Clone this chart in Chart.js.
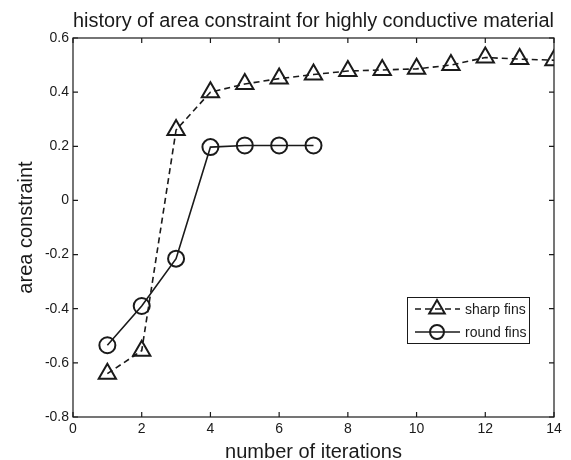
<!DOCTYPE html>
<html>
<head>
<meta charset="utf-8">
<script src="https://cdn.jsdelivr.net/npm/chart.js@4/dist/chart.umd.min.js"></script>
<style>
  html, body { margin: 0; padding: 0; background: #ffffff; }
  #wrap { width: 571px; height: 460px; }
</style>
</head>
<body>
<div id="wrap"><canvas id="grafico" width="571" height="460"></canvas></div>
<script>
// Datos
const sharpIter = [1, 2, 3, 4, 5, 6, 7, 8, 9, 10, 11, 12, 13, 14];
const sharpFins = [-0.64, -0.555, 0.26, 0.40, 0.43, 0.45, 0.465, 0.478, 0.482, 0.486, 0.50, 0.528, 0.522, 0.518];
const roundIter = [1, 2, 3, 4, 5, 6, 7];
const roundFins = [-0.535, -0.39, -0.215, 0.197, 0.203, 0.203, 0.203];
const xTicks = [0, 2, 4, 6, 8, 10, 12, 14];
const yTicks = [-0.8, -0.6, -0.4, -0.2, 0, 0.2, 0.4, 0.6];

const ink = "#1a1a1a";
const fuente = "'Liberation Sans', Arial, Helvetica, sans-serif";

function puntos(xs, ys) {
  return xs.map((x, i) => ({ x: x, y: ys[i] }));
}

// Caja con marcas hacia dentro, como en Matlab
const cajaPlugin = {
  id: "caja",
  afterDraw(chart) {
    const ctx = chart.ctx;
    const a = chart.chartArea;
    const sx = chart.scales.x, sy = chart.scales.y;
    const len = 5;
    ctx.save();
    ctx.strokeStyle = ink;
    ctx.lineWidth = 1.2;
    ctx.strokeRect(a.left, a.top, a.right - a.left, a.bottom - a.top);
    ctx.beginPath();
    xTicks.forEach(v => {
      const px = sx.getPixelForValue(v);
      ctx.moveTo(px, a.bottom); ctx.lineTo(px, a.bottom - len);
      ctx.moveTo(px, a.top); ctx.lineTo(px, a.top + len);
    });
    yTicks.forEach(v => {
      const py = sy.getPixelForValue(v);
      ctx.moveTo(a.left, py); ctx.lineTo(a.left + len, py);
      ctx.moveTo(a.right, py); ctx.lineTo(a.right - len, py);
    });
    ctx.stroke();
    ctx.restore();
  }
};

// Leyenda dentro del area del grafico
const leyendaPlugin = {
  id: "leyendaDentro",
  afterDraw(chart) {
    const ctx = chart.ctx;
    const x0 = 407, y0 = 297, w = 122, h = 46;
    ctx.save();
    ctx.fillStyle = "#ffffff";
    ctx.fillRect(x0, y0, w, h);
    ctx.strokeStyle = ink;
    ctx.lineWidth = 1;
    ctx.strokeRect(x0 + 0.5, y0 + 0.5, w, h);
    chart.data.datasets.forEach((ds, i) => {
      const cy = y0 + 12 + i * 23;
      ctx.strokeStyle = ds.borderColor;
      ctx.lineWidth = ds.borderWidth;
      ctx.setLineDash(ds.borderDash || []);
      ctx.beginPath();
      ctx.moveTo(x0 + 8, cy);
      ctx.lineTo(x0 + 53, cy);
      ctx.stroke();
      ctx.setLineDash([]);
      ctx.fillStyle = "rgba(0,0,0,0)";
      ctx.strokeStyle = ink;
      ctx.lineWidth = ds.pointBorderWidth;
      Chart.helpers.drawPoint(ctx, {
        pointStyle: ds.pointStyle,
        radius: ds.pointRadius - 1,
        borderWidth: ds.pointBorderWidth
      }, x0 + 30, cy);
      ctx.fillStyle = ink;
      ctx.font = "14px " + fuente;
      ctx.textBaseline = "middle";
      ctx.textAlign = "left";
      ctx.fillText(ds.label, x0 + 58, cy + 1);
    });
    ctx.restore();
  }
};

const config = {
  type: "line",
  data: {
    datasets: [
      {
        label: "sharp fins",
        data: puntos(sharpIter, sharpFins),
        borderColor: ink,
        borderWidth: 1.6,
        borderDash: [6, 4],
        pointStyle: "triangle",
        pointRadius: 10,
        pointBorderWidth: 2,
        pointBorderColor: ink,
        pointBackgroundColor: "rgba(0,0,0,0)",
        fill: false,
        tension: 0
      },
      {
        label: "round fins",
        data: puntos(roundIter, roundFins),
        borderColor: ink,
        borderWidth: 1.6,
        pointStyle: "circle",
        pointRadius: 8,
        pointBorderWidth: 2,
        pointBorderColor: ink,
        pointBackgroundColor: "rgba(0,0,0,0)",
        fill: false,
        tension: 0
      }
    ]
  },
  options: {
    responsive: false,
    animation: false,
    layout: { padding: { left: 0, right: 17, top: 0, bottom: 0 } },
    plugins: {
      legend: { display: false },
      tooltip: { enabled: false },
      title: {
        display: true,
        fullSize: false,
        text: "history of area constraint for highly conductive material",
        color: ink,
        font: { family: fuente, size: 20, weight: "normal", lineHeight: 1.2 },
        padding: { top: 9, bottom: 5 }
      }
    },
    scales: {
      x: {
        type: "linear",
        min: 0,
        max: 14,
        afterBuildTicks: s => { s.ticks = xTicks.map(v => ({ value: v })); },
        ticks: { color: ink, font: { family: fuente, size: 14 }, padding: 4, maxRotation: 0 },
        grid: { display: false, drawTicks: false },
        border: { display: false },
        title: {
          display: true,
          text: "number of iterations",
          color: ink,
          font: { family: fuente, size: 20, lineHeight: 1 },
          padding: { top: 0, bottom: -2 }
        },
        afterFit: s => { s.height = 43; }
      },
      y: {
        min: -0.8,
        max: 0.6,
        afterBuildTicks: s => { s.ticks = yTicks.map(v => ({ value: v })); },
        ticks: {
          color: ink,
          font: { family: fuente, size: 14 },
          padding: 4,
          callback: v => Math.abs(v) < 1e-9 ? "0" : Number(v).toFixed(1)
        },
        grid: { display: false, drawTicks: false },
        border: { display: false },
        title: {
          display: true,
          text: "area constraint",
          color: ink,
          font: { family: fuente, size: 20, lineHeight: 1.2 },
          padding: { top: 14, bottom: 0 }
        },
        afterFit: s => { s.width = 73; }
      }
    }
  },
  plugins: [cajaPlugin, leyendaPlugin]
};

new Chart(document.getElementById("grafico").getContext("2d"), config);
</script>
</body>
</html>
